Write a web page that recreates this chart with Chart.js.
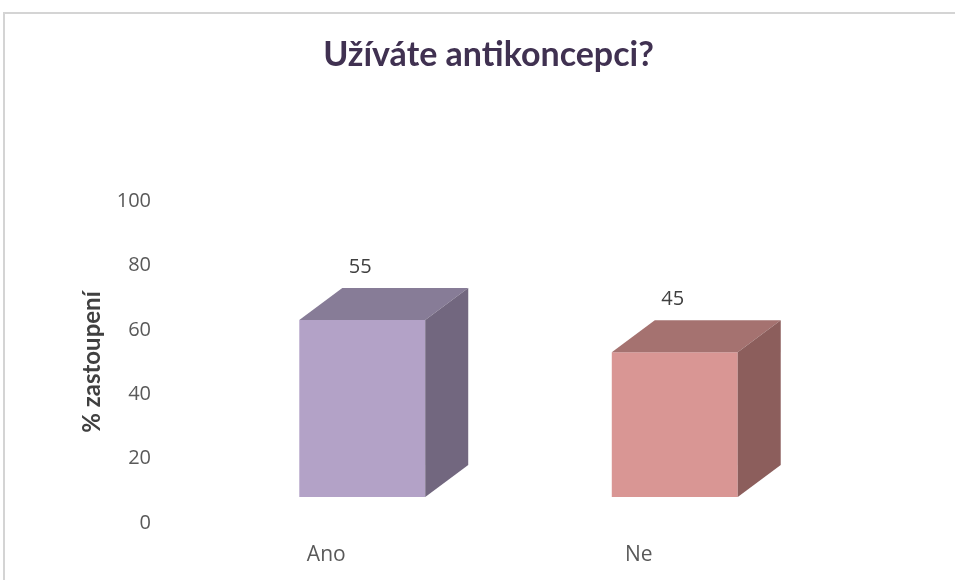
<!DOCTYPE html>
<html>
<head>
<meta charset="utf-8">
<script src="https://cdn.jsdelivr.net/npm/chart.js@4"></script>
<style>
  body { margin: 0; background: #fff; }
</style>
</head>
<body>
<canvas id="chart" width="955" height="580"></canvas>
<script>
var categories = ["Ano", "Ne"];
var values = [55, 45];
var yTicks = [0, 20, 40, 60, 80, 100];

var frontColors = ["#B3A2C7", "#D99694"];
var topColors = ["#877C97", "#A57270"];
var sideColors = ["#72677F", "#8C5E5C"];

// depth of the 3d boxes
var dx = 43, dy = -32;

var cubePlugin = {
  id: "cube",
  beforeDraw: function (chart) {
    var ctx = chart.ctx;
    ctx.save();
    ctx.fillStyle = "#fff";
    ctx.fillRect(0, 0, chart.width, chart.height);
    ctx.strokeStyle = "#D4D4D4";
    ctx.lineWidth = 2;
    ctx.beginPath();
    ctx.moveTo(4, chart.height);
    ctx.lineTo(4, 13);
    ctx.lineTo(chart.width, 13);
    ctx.stroke();
    ctx.restore();
  },
  afterDatasetsDraw: function (chart) {
    var ctx = chart.ctx;
    var meta = chart.getDatasetMeta(0);
    ctx.save();
    meta.data.forEach(function (bar, i) {
      var l = bar.x - bar.width / 2, r = bar.x + bar.width / 2;
      var t = bar.y, b = bar.base;
      ctx.fillStyle = topColors[i];
      ctx.beginPath();
      ctx.moveTo(l, t);
      ctx.lineTo(l + dx, t + dy);
      ctx.lineTo(r + dx, t + dy);
      ctx.lineTo(r, t);
      ctx.closePath();
      ctx.fill();
      ctx.fillStyle = sideColors[i];
      ctx.beginPath();
      ctx.moveTo(r, t);
      ctx.lineTo(r + dx, t + dy);
      ctx.lineTo(r + dx, b + dy);
      ctx.lineTo(r, b);
      ctx.closePath();
      ctx.fill();
      ctx.fillStyle = "#404040";
      ctx.font = "20px 'Open Sans'";
      ctx.textAlign = "center";
      ctx.textBaseline = "middle";
      ctx.fillText(String(values[i]), bar.x - 2, t - 53);
    });
    ctx.restore();
  }
};

new Chart(document.getElementById("chart"), {
  type: "bar",
  data: {
    labels: categories,
    datasets: [{
      data: values,
      yAxisID: "yb",
      backgroundColor: frontColors,
      borderWidth: 0,
      barPercentage: 0.403,
      categoryPercentage: 1
    }]
  },
  options: {
    responsive: false,
    animation: false,
    layout: { padding: { left: 22, right: 0, top: 0, bottom: 0 } },
    plugins: {
      legend: { display: false },
      tooltip: { enabled: false },
      title: {
        display: true,
        text: "Užíváte antikoncepci?",
        color: "#403151",
        font: { family: "Lato", size: 34, weight: "bold" },
        padding: { top: 34.6, bottom: 125.6 }
      }
    },
    scales: {
      x: {
        grid: { display: false, drawTicks: false },
        border: { display: false },
        afterFit: function (axis) { axis.height = 57; },
        ticks: {
          color: "#595959",
          font: { family: "'Open Sans'", size: 21 },
          padding: 19,
          labelOffset: -36
        }
      },
      y: {
        position: "left",
        min: 0,
        max: 100,
        afterBuildTicks: function (axis) {
          axis.ticks = yTicks.map(function (v) { return { value: v }; });
        },
        afterFit: function (axis) {
          axis.width = 184;
          axis.paddingTop = 12;
          axis.paddingBottom = 12;
        },
        grid: { display: false, drawTicks: false },
        border: { display: false },
        ticks: {
          color: "#595959",
          font: { family: "'Open Sans'", size: 20 },
          padding: 55
        },
        title: {
          display: true,
          text: "% zastoupení",
          color: "#404040",
          font: { family: "Lato", size: 24, weight: "bold" },
          padding: { top: 55.6, bottom: 0 }
        }
      },
      yb: {
        position: "right",
        min: -8.05,
        max: 91.95,
        afterFit: function (axis) { axis.width = 124; },
        grid: { display: false, drawTicks: false },
        border: { display: false },
        ticks: { display: false }
      }
    }
  },
  plugins: [cubePlugin]
});
</script>
</body>
</html>
